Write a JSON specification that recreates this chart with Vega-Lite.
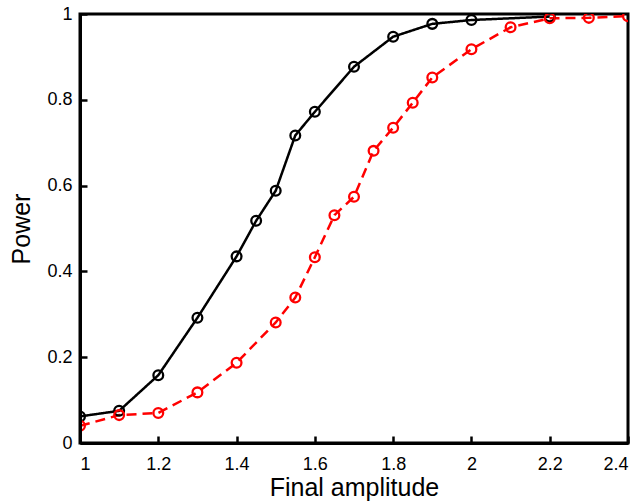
{
  "$schema": "https://vega.github.io/schema/vega-lite/v6.json",
  "autosize": {"type": "none"},
  "padding": {"left": 80, "top": 14, "right": 13, "bottom": 61},
  "width": 548,
  "height": 429,
  "background": "white",
  "config": {
    "view": {"stroke": "black", "strokeWidth": 3},
    "font": "Liberation Sans"
  },
  "data": {
    "values": [
      {"series": "A", "amp": 1.0, "power": 0.062},
      {"series": "A", "amp": 1.1, "power": 0.075},
      {"series": "A", "amp": 1.2, "power": 0.158},
      {"series": "A", "amp": 1.3, "power": 0.292},
      {"series": "A", "amp": 1.4, "power": 0.435},
      {"series": "A", "amp": 1.45, "power": 0.518},
      {"series": "A", "amp": 1.5, "power": 0.588},
      {"series": "A", "amp": 1.55, "power": 0.717},
      {"series": "A", "amp": 1.6, "power": 0.772},
      {"series": "A", "amp": 1.7, "power": 0.877},
      {"series": "A", "amp": 1.8, "power": 0.947},
      {"series": "A", "amp": 1.9, "power": 0.977},
      {"series": "A", "amp": 2.0, "power": 0.986},
      {"series": "A", "amp": 2.2, "power": 0.994},
      {"series": "B", "amp": 1.0, "power": 0.040},
      {"series": "B", "amp": 1.1, "power": 0.065},
      {"series": "B", "amp": 1.2, "power": 0.070},
      {"series": "B", "amp": 1.3, "power": 0.118},
      {"series": "B", "amp": 1.4, "power": 0.187},
      {"series": "B", "amp": 1.5, "power": 0.281},
      {"series": "B", "amp": 1.55, "power": 0.339},
      {"series": "B", "amp": 1.6, "power": 0.433},
      {"series": "B", "amp": 1.65, "power": 0.531},
      {"series": "B", "amp": 1.7, "power": 0.574},
      {"series": "B", "amp": 1.75, "power": 0.681},
      {"series": "B", "amp": 1.8, "power": 0.735},
      {"series": "B", "amp": 1.85, "power": 0.793},
      {"series": "B", "amp": 1.9, "power": 0.852},
      {"series": "B", "amp": 2.0, "power": 0.918},
      {"series": "B", "amp": 2.1, "power": 0.969},
      {"series": "B", "amp": 2.2, "power": 0.990},
      {"series": "B", "amp": 2.3, "power": 0.991},
      {"series": "B", "amp": 2.4, "power": 0.995}
    ]
  },
  "layer": [
    {
      "mark": {"type": "line", "strokeWidth": 2.5, "clip": true},
      "encoding": {
        "x": {
          "field": "amp", "type": "quantitative",
          "scale": {"domain": [1, 2.4], "nice": false, "zero": false},
          "axis": {
            "orient": "bottom", "tickCount": 7, "format": "~g", "zindex": 1,
            "title": "Final amplitude", "gridColor": "white", "gridOpacity": 0,
            "domainColor": "black", "domainWidth": 3,
            "tickSize": -7, "tickColor": "black", "tickWidth": 2.5,
            "labelPadding": 19, "labelFontSize": 18, "labelColor": "black", "labelFont": "Liberation Sans",
            "titlePadding": 2, "titleFontSize": 25, "titleFontWeight": "normal", "titleColor": "black", "titleFont": "Liberation Sans"
          }
        },
        "y": {
          "field": "power", "type": "quantitative",
          "scale": {"domain": [0, 1], "nice": false},
          "axis": {
            "orient": "left", "tickCount": 5, "format": "~g", "zindex": 1,
            "title": "Power", "gridColor": "white", "gridOpacity": 0,
            "domainColor": "black", "domainWidth": 3,
            "tickSize": -7, "tickColor": "black", "tickWidth": 2.5,
            "labelPadding": 15, "labelFontSize": 18, "labelColor": "black", "labelFont": "Liberation Sans",
            "titlePadding": 12, "titleFontSize": 25, "titleFontWeight": "normal", "titleColor": "black", "titleFont": "Liberation Sans"
          }
        },
        "color": {"field": "series", "type": "nominal", "scale": {"domain": ["A", "B"], "range": ["black", "#ff0000"]}, "legend": null},
        "strokeDash": {"field": "series", "type": "nominal", "scale": {"domain": ["A", "B"], "range": [[1, 0], [10, 6]]}, "legend": null}
      }
    },
    {
      "mark": {"type": "point", "filled": false, "size": 95, "strokeWidth": 2.3, "opacity": 1, "clip": true},
      "encoding": {
        "x": {"field": "amp", "type": "quantitative"},
        "y": {"field": "power", "type": "quantitative"},
        "color": {"field": "series", "type": "nominal", "legend": null}
      }
    }
  ]
}
